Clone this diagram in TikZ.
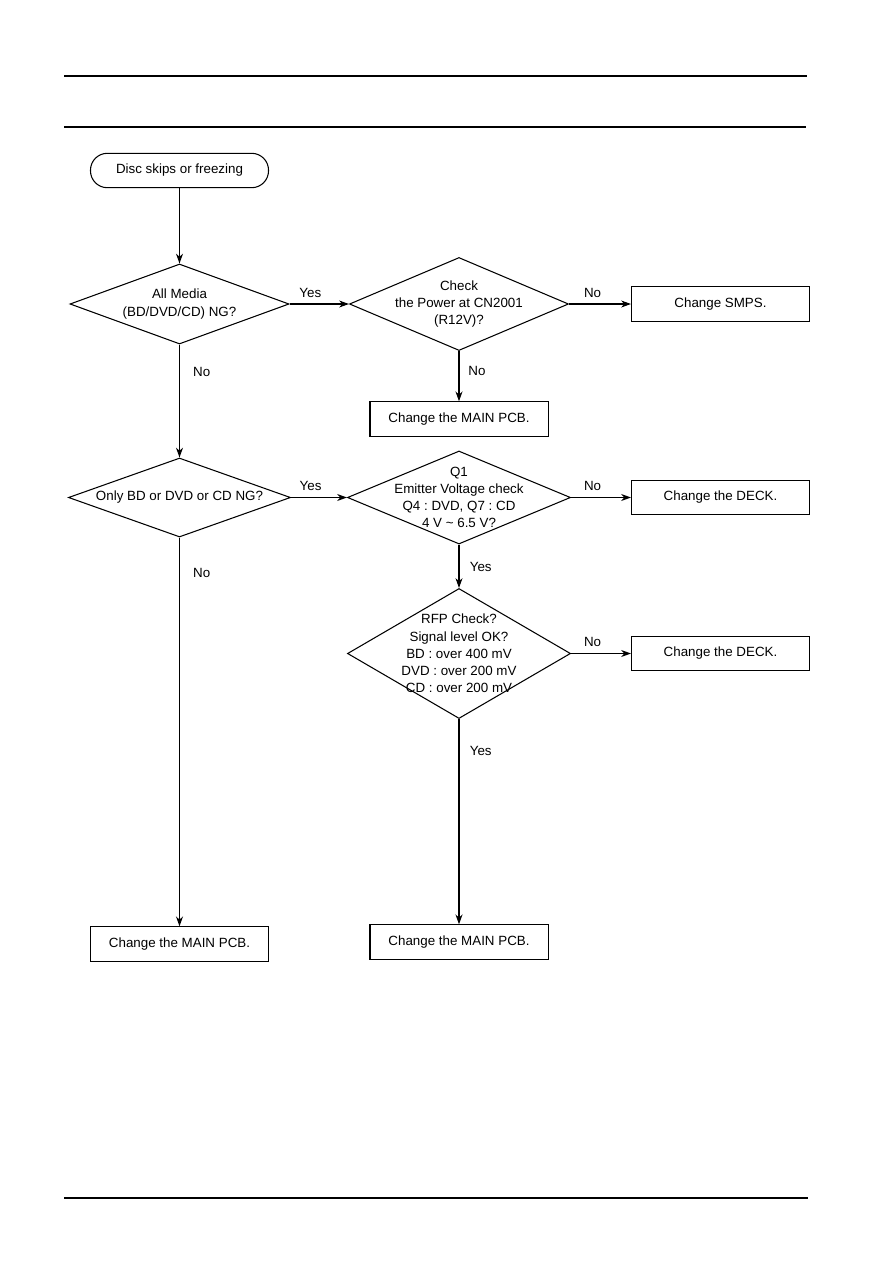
\documentclass[tikz,border=0pt]{standalone}
\usepackage{fontspec}
\setmainfont{Liberation Sans}
\usetikzlibrary{shapes.geometric,arrows.meta,positioning}
\newcommand{\flowfont}{\fontsize{9.5}{12.2}\selectfont\frenchspacing}

\begin{document}
\begin{tikzpicture}[x=0.025cm, y=-0.025cm,
  box/.style={rectangle, draw, line width=0.75pt, minimum width=4.45cm,
              minimum height=0.86cm, align=center, font=\flowfont},
  start/.style={box, rounded corners=12pt},
  dec/.style={diamond, draw, line width=0.75pt, inner sep=0pt},
  dtext/.style={align=center, font=\flowfont},
  lbl/.style={font=\flowfont},
  arr/.style={-{Stealth[length=7pt,width=5pt]}, line width=0.75pt}]

  \useasboundingbox (0,0) rectangle (893,1263);

  % page rules
  \draw[line width=1.1pt] (64,76) -- (807,76);
  \draw[line width=1.1pt] (64,127) -- (806,127);
  \draw[line width=1pt] (64,1198) -- (808,1198);

  \node[start] (start) at (179.5,170.5) {Disc skips or freezing};
  \node[dec, minimum width=5.475cm, minimum height=2cm,
        label={[dtext]center:All Media\\(BD/DVD/CD) NG?}] (allmedia) at (179.5,304) {};
  \node[dec, minimum width=5.475cm, minimum height=2.325cm,
        label={[dtext]center:Check\\the Power at CN2001\\(R12V)?}] (power) at (459,304) {};
  \node[box] (smps) at (720.5,304) {Change SMPS.};
  \node[box] (pcb1) at (459,419) {Change the MAIN PCB.};
  \node[dec, minimum width=5.55cm, minimum height=1.975cm,
        label={[dtext]center:Only BD or DVD or CD NG?}] (only) at (179.5,497.5) {};
  \node[dec, minimum width=5.575cm, minimum height=2.325cm,
        label={[dtext]center:Q1\\Emitter Voltage check\\Q4 : DVD, Q7 : CD\\4 V \textasciitilde{} 6.5 V?}] (emitter) at (459,497.5) {};
  \node[box] (deck1) at (720.5,497.5) {Change the DECK.};
  \node[dec, minimum width=5.575cm, minimum height=3.25cm,
        label={[dtext]center:RFP Check?\\Signal level OK?\\BD : over 400 mV\\DVD : over 200 mV\\CD : over 200 mV}] (rfp) at (459,653.5) {};
  \node[box] (deck2) at (720.5,653.5) {Change the DECK.};
  \node[box] (pcb3) at (459,942) {Change the MAIN PCB.};
  \node[box] (pcb2) at (179.5,944) {Change the MAIN PCB.};

  \draw[arr] (start) -- (allmedia);
  \draw[arr] (allmedia) -- node[lbl, above=1pt, pos=0.35] {Yes} (power);
  \draw[arr] (power) -- node[lbl, above=1pt, pos=0.38] {No} (smps);
  \draw[arr] (power) -- node[lbl, right=3pt, pos=0.4] {No} (pcb1);
  \draw[arr] (allmedia) -- node[lbl, right=6pt, pos=0.24] {No} (only);
  \draw[arr] (only) -- node[lbl, above=1pt, pos=0.35] {Yes} (emitter);
  \draw[arr] (emitter) -- node[lbl, above=1pt, pos=0.36] {No} (deck1);
  \draw[arr] (emitter) -- node[lbl, right=4pt, pos=0.52] {Yes} (rfp);
  \draw[arr] (rfp) -- node[lbl, above=1pt, pos=0.36] {No} (deck2);
  \draw[arr] (rfp) -- node[lbl, right=4pt, pos=0.155] {Yes} (pcb3);
  \draw[arr] (only) -- node[lbl, right=6pt, pos=0.09] {No} (pcb2);

\end{tikzpicture}
\end{document}
